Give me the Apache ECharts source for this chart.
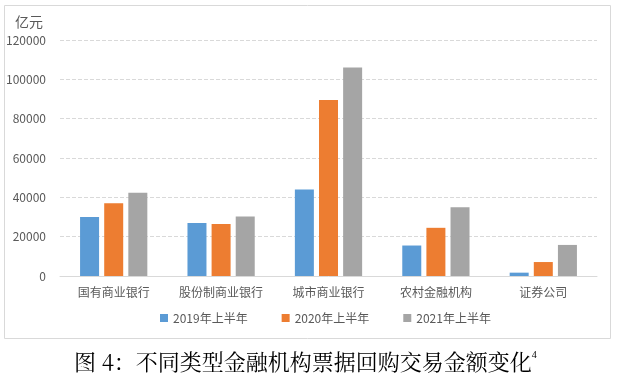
<!DOCTYPE html>
<html><head><meta charset="utf-8">
<script src="https://cdn.jsdelivr.net/npm/echarts@6/dist/echarts.min.js"></script>
<style>html,body{margin:0;padding:0;background:#fff}#c{width:623px;height:387px}</style>
</head><body><div id="c"></div>
<script>
const categories = ['国有商业银行','股份制商业银行','城市商业银行','农村金融机构','证券公司'];
const seriesNames = ['2019年上半年','2020年上半年','2021年上半年'];
const s2019 = [30000, 27000, 44000, 15500, 1700];
const s2020 = [37000, 26500, 89500, 24500, 7100];
const s2021 = [42300, 30300, 106000, 35000, 15800];
const colors = ['#5B9BD5','#ED7D31','#A5A5A5'];
const chart = echarts.init(document.getElementById('c'));
const font = '"Noto Sans CJK SC", "Noto Sans", sans-serif';
chart.setOption({
  animation:false,
  color: colors,
  textStyle:{fontFamily:font},
  grid:{left:60,right:26,top:40,bottom:111,containLabel:false},
  legend:{bottom:58,left:155,itemWidth:8,itemHeight:8,itemGap:34,icon:'rect',
    textStyle:{fontSize:12,color:'#595959',fontFamily:font}, data:seriesNames},
  xAxis:{type:'category',data:categories,
    axisLine:{lineStyle:{color:'#D9D9D9'}},axisTick:{show:false},
    axisLabel:{fontSize:12,color:'#595959',margin:10,interval:0}},
  yAxis:{type:'value',min:0,max:120000,interval:20000,
    name:'亿元',nameLocation:'end',nameGap:11,
    nameTextStyle:{fontSize:14,color:'#595959',align:'right',padding:[0,17,0,0]},
    axisLine:{show:false},axisTick:{show:false},
    axisLabel:{fontSize:12,color:'#595959',margin:14,formatter:function(v){return String(v);}},
    splitLine:{lineStyle:{color:'#D9D9D9',type:[4,2]}}},
  series:[
    {name:seriesNames[0],type:'bar',data:s2019,barWidth:19,barGap:'27%'},
    {name:seriesNames[1],type:'bar',data:s2020,barWidth:19,barGap:'27%'},
    {name:seriesNames[2],type:'bar',data:s2021,barWidth:19,barGap:'27%'}
  ],
  graphic:[
    {type:'rect',shape:{x:4.5,y:5.5,width:606,height:333},style:{fill:null,stroke:'#D9D9D9',lineWidth:1},z:-1},
    {type:'text',left:74,top:350,style:{
      text:'{m|图 4：不同类型金融机构票据回购交易金额变化}{s|4}',
      rich:{m:{fontSize:22,fill:'#000',fontFamily:'"Noto Serif CJK SC", serif'},
            s:{fontSize:10,fill:'#000',verticalAlign:'top',padding:[0,0,14,0],fontFamily:'serif'}}}}
  ]
});
</script></body></html>
